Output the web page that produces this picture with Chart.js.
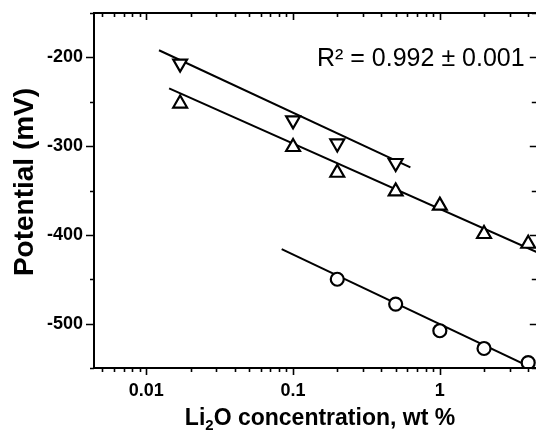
<!DOCTYPE html>
<html>
<head>
<meta charset="utf-8">
<script src="https://cdn.jsdelivr.net/npm/chart.js@4.4.1/dist/chart.umd.min.js"></script>
<style>
html,body{margin:0;padding:0;background:#fff;overflow:hidden;}
#wrap{width:536px;height:435px;overflow:hidden;position:relative;}
canvas{display:block;}
</style>
</head>
<body>
<div id="wrap"><canvas id="c" width="548" height="435" style="width:548px;height:435px"></canvas></div>
<script>
// ---- data ----
const concDown = [0.017, 0.1, 0.2, 0.5];
const potDown  = [-207, -271, -297, -319];
const concUp   = [0.017, 0.1, 0.2, 0.5, 1, 2, 4];
const potUp    = [-252, -301, -330, -351, -367, -399, -410];
const concCirc = [0.2, 0.5, 1, 2, 4];
const potCirc  = [-450, -478, -508, -528, -544];
// fitted lines (endpoints)
const fitDownX = [0.0122, 0.63];
const fitDownY = [-192, -324];
const fitUpX   = [0.0143, 4.65];
const fitUpY   = [-235, -420];
const fitCircX = [0.0836, 4.65];
const fitCircY = [-416, -553];
// ticks
const xTickLabels = [0.01, 0.1, 1];
const yTickLabels = [-500, -400, -300, -200];
const yMinorTicks = [-550, -450, -350, -250, -150];
const xRange = [0.0044, 4.65];
const yRange = [-550, -150];
const r2Text = 'R\u00B2 = 0.992 \u00B1 0.001';
const yTitle = 'Potential (mV)';
const xTitleParts = ['Li', '2', 'O concentration, wt %'];

const pts = (xs, ys) => xs.map((x, i) => ({x: x, y: ys[i]}));
const FONT = "'Liberation Sans', Arial, sans-serif";

const decor = {
  id: 'decor',
  afterDatasetsDraw(chart) {
    const ctx = chart.ctx, a = chart.chartArea;
    const xs = chart.scales.x, ys = chart.scales.y;
    ctx.save();
    ctx.strokeStyle = '#000';
    ctx.lineWidth = 2;
    ctx.strokeRect(a.left, a.top, a.right - a.left, a.bottom - a.top);
    ctx.lineWidth = 1.6;
    ctx.beginPath();
    yTickLabels.forEach(v => {
      const p = Math.round(ys.getPixelForValue(v)) + 0.5;
      ctx.moveTo(a.left - 8, p); ctx.lineTo(a.left, p);
      ctx.moveTo(a.right, p); ctx.lineTo(a.right - 8, p);
    });
    yMinorTicks.forEach(v => {
      const p = Math.round(ys.getPixelForValue(v)) + 0.5;
      ctx.moveTo(a.left - 4, p); ctx.lineTo(a.left, p);
      ctx.moveTo(a.right, p); ctx.lineTo(a.right - 6, p);
    });
    for (let e = -3; e <= 1; e++) {
      for (let m = 1; m <= 9; m++) {
        const v = m * Math.pow(10, e);
        if (v < xRange[0] || v > xRange[1]) continue;
        const p = Math.round(xs.getPixelForValue(v)) + 0.5;
        const len = m === 1 ? 7 : 4;
        ctx.moveTo(p, a.bottom); ctx.lineTo(p, a.bottom + len);
        ctx.moveTo(p, a.top); ctx.lineTo(p, a.top + len);
      }
    }
    ctx.stroke();

    ctx.fillStyle = '#000';
    ctx.font = '25px ' + FONT;
    ctx.textBaseline = 'alphabetic';
    ctx.textAlign = 'left';
    ctx.fillText(r2Text, 317, 66);

    ctx.save();
    ctx.translate(33, 182);
    ctx.rotate(-Math.PI / 2);
    ctx.font = 'bold 28px ' + FONT;
    ctx.textAlign = 'center';
    ctx.fillText(yTitle, 0, 0);
    ctx.restore();

    ctx.font = 'bold 23px ' + FONT;
    const w0 = ctx.measureText(xTitleParts[0]).width;
    const w2 = ctx.measureText(xTitleParts[2]).width;
    ctx.font = 'bold 15px ' + FONT;
    const w1 = ctx.measureText(xTitleParts[1]).width;
    const total = w0 + w1 + w2;
    const x0 = 320 - total / 2;
    const base = 425;
    ctx.font = 'bold 23px ' + FONT;
    ctx.fillText(xTitleParts[0], x0, base);
    ctx.font = 'bold 15px ' + FONT;
    ctx.fillText(xTitleParts[1], x0 + w0, base + 5);
    ctx.font = 'bold 23px ' + FONT;
    ctx.fillText(xTitleParts[2], x0 + w0 + w1, base);
    ctx.restore();
  }
};

const lineDs = (xs, ys) => ({
  data: pts(xs, ys), showLine: true, borderColor: '#000', borderWidth: 2,
  pointRadius: 0, fill: false, order: 2
});
const markDs = (xs, ys, style, rot, r) => ({
  data: pts(xs, ys), showLine: false, pointStyle: style, rotation: rot,
  pointRadius: r, pointBorderColor: '#000', pointBackgroundColor: '#fff',
  pointBorderWidth: 2.2, order: 1
});

new Chart(document.getElementById('c'), {
  type: 'scatter',
  data: {
    datasets: [
      lineDs(fitDownX, fitDownY),
      lineDs(fitUpX, fitUpY),
      lineDs(fitCircX, fitCircY),
      markDs(concDown, potDown, 'triangle', 180, 8),
      markDs(concUp, potUp, 'triangle', 0, 8),
      markDs(concCirc, potCirc, 'circle', 0, 6.5)
    ]
  },
  options: {
    responsive: false,
    animation: false,
    devicePixelRatio: 1,
    layout: {padding: {top: 13, right: 8, left: 0, bottom: 0}},
    plugins: {legend: {display: false}, tooltip: {enabled: false}},
    scales: {
      x: {
        type: 'logarithmic', min: xRange[0], max: xRange[1],
        grid: {display: false, drawTicks: false}, border: {display: false},
        afterBuildTicks: s => { s.ticks = xTickLabels.map(v => ({value: v})); },
        afterFit: s => { s.height = 67; s.paddingLeft = 0; s.paddingRight = 0; },
        ticks: {
          autoSkip: false, maxRotation: 0, padding: 12, color: '#000',
          font: {family: FONT, size: 18, weight: 'bold'},
          callback: v => String(v)
        }
      },
      y: {
        type: 'linear', min: yRange[0], max: yRange[1],
        grid: {display: false, drawTicks: false}, border: {display: false},
        afterBuildTicks: s => { s.ticks = yTickLabels.map(v => ({value: v})); },
        afterFit: s => { s.width = 94; s.paddingTop = 0; s.paddingBottom = 0; },
        ticks: {
          padding: 11, color: '#000',
          font: {family: FONT, size: 18, weight: 'bold'},
          callback: v => String(v)
        }
      }
    }
  },
  plugins: [decor]
});
</script>
</body>
</html>
